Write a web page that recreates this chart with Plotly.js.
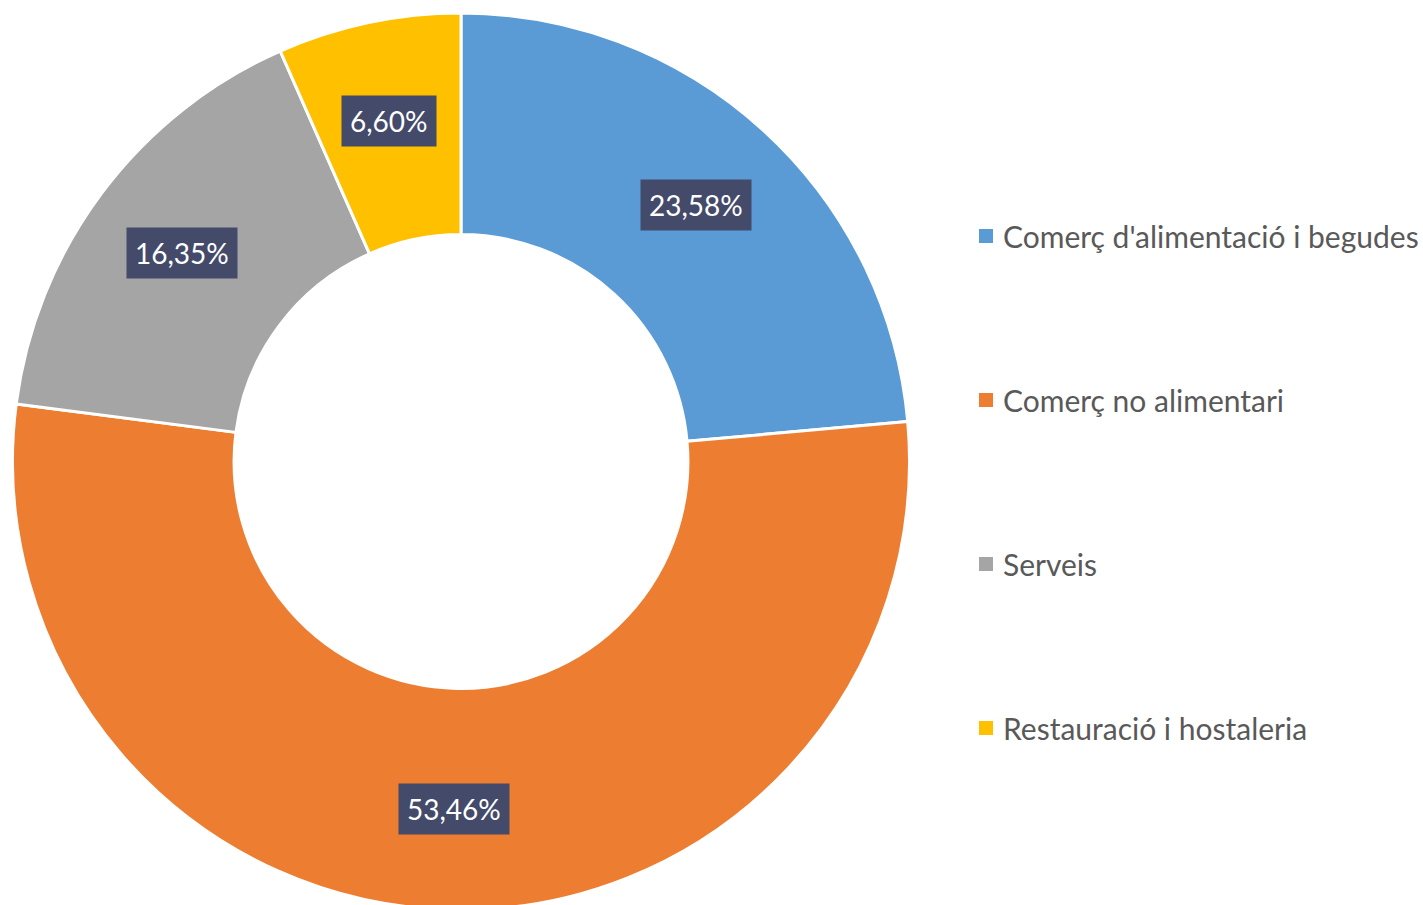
<!DOCTYPE html>
<html>
<head>
<meta charset="utf-8">
<script src="https://cdn.plot.ly/plotly-3.0.1.min.js"></script>
<style>html,body{margin:0;padding:0;background:#fff;overflow:hidden;}#chart{width:1423px;height:910px;}</style>
</head>
<body>
<div id="chart"></div>
<script>
const categories = ["Comerç d'alimentació i begudes", "Comerç no alimentari", "Serveis", "Restauració i hostaleria"];
const values = [23.58, 53.46, 16.35, 6.60];
const valueLabels = ["23,58%", "53,46%", "16,35%", "6,60%"];
const colors = ["#5B9BD5", "#ED7D31", "#A5A5A5", "#FFC000"];

const W = 1423, H = 910;
const M = {l: 0, r: 0, t: 13, b: 0};
const domX = [0, 922 / W];
const plotW = W - M.l - M.r, plotH = H - M.t - M.b;
const cx = M.l + plotW * (domX[0] + domX[1]) / 2;
const cy = M.t + plotH / 2;
const R = Math.min(plotW * (domX[1] - domX[0]), plotH) / 2;
const labelR = 0.776 * R;

const total = values.reduce((a, b) => a + b, 0);
const annotations = [];
let cum = 0;
values.forEach((v, i) => {
  const theta = 2 * Math.PI * (cum + v / 2) / total;
  cum += v;
  const px = cx + labelR * Math.sin(theta);
  const py = cy - labelR * Math.cos(theta);
  annotations.push({
    xref: 'paper', yref: 'paper',
    x: (px - M.l) / plotW, y: 1 - (py - M.t) / plotH,
    xanchor: 'center', yanchor: 'middle',
    text: valueLabels[i], showarrow: false,
    font: {family: 'Lato, sans-serif', size: 28, color: '#ffffff'},
    bgcolor: '#444a6a', borderpad: 8
  });
});

const legendRows = [236, 400, 564, 728];
const shapes = [];
categories.forEach((c, i) => {
  const py = legendRows[i];
  annotations.push({
    xref: 'paper', yref: 'paper',
    x: (1001 - M.l) / plotW, y: 1 - (py - M.t) / plotH,
    xanchor: 'left', yanchor: 'middle',
    text: c, showarrow: false,
    font: {family: 'Lato, sans-serif', size: 30, color: '#595959'}
  });
  shapes.push({
    type: 'rect', xref: 'paper', yref: 'paper',
    x0: (979 - M.l) / plotW, x1: (993 - M.l) / plotW,
    y0: 1 - (py + 7 - M.t) / plotH, y1: 1 - (py - 7 - M.t) / plotH,
    fillcolor: colors[i], line: {width: 0}
  });
});

const data = [{
  type: 'pie',
  labels: categories,
  values: values,
  hole: 0.506,
  sort: false,
  direction: 'clockwise',
  rotation: 0,
  textinfo: 'none',
  hoverinfo: 'label+percent',
  marker: {colors: colors, line: {color: '#ffffff', width: 3}},
  domain: {x: domX, y: [0, 1]},
  showlegend: false
}];

const layout = {
  width: W, height: H,
  margin: M,
  paper_bgcolor: '#ffffff',
  plot_bgcolor: '#ffffff',
  showlegend: false,
  annotations: annotations,
  shapes: shapes
};

Plotly.newPlot('chart', data, layout, {displayModeBar: false, staticPlot: true});
</script>
</body>
</html>
